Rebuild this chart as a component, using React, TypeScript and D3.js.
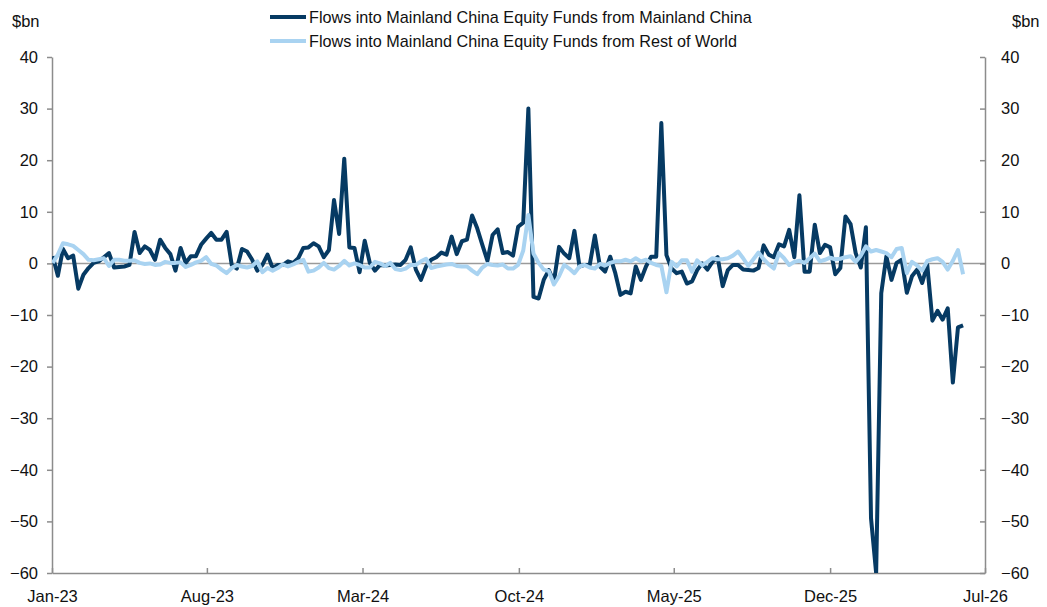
import {useEffect, useRef} from 'react';
import * as d3 from 'd3';

// weekly observations, first week starting 2 Jan 2023
const startDate = new Date(2023, 0, 2);

const mainlandFlows = [
  1.4, -2.4, 2.8, 1.0, 1.5, -4.9, -2.2, -0.9, 0.1, 0.4, 1.2, 2.0, -0.8, -0.7, -0.6, -0.3, 6.1, 2.0, 3.3, 2.6,
  0.7, 4.6, 3.0, 1.8, -1.4, 3.0, 0.1, 1.4, 1.4, 3.6, 4.8, 5.9, 4.6, 4.6, 6.1, -0.3, -1.0, 2.8, 2.3, 0.7,
  -1.4, -0.3, 1.7, -0.9, -0.3, -0.3, 0.4, 0.1, 1.0, 3.0, 3.1, 3.9, 3.3, 1.2, 2.6, 12.3, 5.7, 20.3, 3.1, 3.0,
  -1.7, 4.4, 0.1, -1.4, -0.3, -0.4, -0.3, -0.2, -0.3, 0.7, 3.1, -1.2, -3.2, -0.6, 0.7, 1.2, 2.1, 1.7, 5.2, 1.8,
  4.3, 4.6, 9.3, 6.8, 3.6, 0.5, 5.5, 6.6, 2.0, 2.2, 1.5, 7.1, 7.9, 30.0, -6.5, -6.8, -3.2, -1.3, -3.5, 3.2,
  1.9, 1.0, 6.3, -0.6, -0.3, -0.3, 5.4, -0.6, -1.6, 1.3, -1.9, -6.1, -5.5, -5.8, -0.6, -3.2, -0.6, 1.3, 1.3, 27.2,
  1.6, -1.0, -1.9, -1.6, -3.9, -3.5, -1.3, 0.0, -1.2, 0.3, 1.2, -4.4, -1.3, -0.3, -0.3, -1.2, -1.3, -1.4, -0.9, 3.5,
  1.7, 1.2, 3.7, 3.3, 6.5, 1.2, 13.2, -1.6, -1.6, 7.5, 2.0, 3.6, 3.1, -2.1, -0.9, 9.1, 7.6, 2.0, -0.8, 7.0,
  -49.4, -60.0, -5.8, 1.4, -3.2, 0.1, 0.7, -5.7, -2.5, -1.2, -3.8, -0.3, -11.1, -9.2, -10.9, -8.7, -23.1, -12.4, -12.0,
];

const restOfWorldFlows = [
  0.1, 1.7, 3.9, 3.7, 3.4, 2.6, 1.8, 0.7, 0.6, 0.8, 1.0, -0.5, 0.7, 0.7, 0.5, 0.5, 0.6, 0.1, -0.1, 0.0,
  -0.3, -0.2, 0.3, 0.1, 0.1, 0.2, -0.7, -0.3, 0.2, 0.5, 1.2, -0.1, -0.4, -1.2, -1.9, -0.9, -0.3, -0.6, -0.8, -0.5,
  0.4, -1.7, -0.9, -1.4, -0.9, -0.2, -0.6, -0.2, 0.3, 0.7, -1.6, -1.4, -0.8, 0.1, -0.9, -1.2, -0.5, 0.5, -0.4, 0.0,
  -0.3, -0.8, -0.8, 0.3, 0.0, -0.5, 0.1, -1.1, -1.3, -1.0, -0.3, -0.3, 0.4, 0.9, -0.9, -0.6, -0.4, -0.2, -0.1, -0.5,
  -0.6, -0.6, -1.4, -2.1, -0.8, -0.1, -0.3, -0.4, -0.2, -1.0, -1.0, -0.3, 2.5, 9.4, 1.9, 0.1, -1.2, -1.5, -4.1, -2.5,
  -0.3, -1.0, -1.9, -0.6, -0.3, -0.8, -1.0, -0.1, -0.4, 0.1, 0.4, 0.4, 0.7, 0.4, 1.0, 0.4, 0.7, 0.1, -0.3, -0.5,
  -5.6, 0.3, -0.6, 0.6, 0.6, -1.6, 0.6, -0.4, 0.3, 1.0, 0.8, 0.8, 1.0, 1.5, 2.3, 1.0, -0.5, 0.8, 2.1, 0.8,
  -0.2, -1.0, 2.0, 1.0, -0.3, 0.3, 0.5, 0.1, 1.0, 1.9, 0.4, 0.7, 1.1, 0.8, 0.9, 1.2, 1.4, 0.3, 1.5, 3.3,
  2.3, 2.6, 2.3, 2.0, 1.2, 2.8, 3.0, -1.9, 0.3, -0.4, -1.4, 0.5, 0.8, 1.0, 0.3, -1.2, 0.5, 2.6, -2.1,
];

const seriesNames = [
  'Flows into Mainland China Equity Funds from Mainland China',
  'Flows into Mainland China Equity Funds from Rest of World',
];
const seriesColors = ['#063a63', '#a9d3f1'];

const yTicks = [40, 30, 20, 10, 0, -10, -20, -30, -40, -50, -60];
const xTickDates = [
  new Date(2023, 0, 1),
  new Date(2023, 7, 1),
  new Date(2024, 2, 1),
  new Date(2024, 9, 1),
  new Date(2025, 4, 1),
  new Date(2025, 11, 1),
  new Date(2026, 6, 1),
];

export default function App() {
  const svgRef = useRef<SVGSVGElement>(null);

  useEffect(() => {
    if (!svgRef.current) return;
    const width = 1047;
    const height = 607;
    const margin = {top: 57, right: 62, bottom: 34, left: 52};
    const font = '"Liberation Sans", Arial, sans-serif';

    const svg = d3.select(svgRef.current);
    svg.selectAll('*').remove();
    svg.attr('width', width).attr('height', height).attr('viewBox', [0, 0, width, height]);
    svg.append('rect').attr('width', width).attr('height', height).attr('fill', '#ffffff');

    const dates = mainlandFlows.map((_, i) => d3.timeDay.offset(startDate, 7 * i));

    const x = d3
      .scaleTime()
      .domain([xTickDates[0], xTickDates[xTickDates.length - 1]])
      .range([margin.left, width - margin.right]);
    const y = d3.scaleLinear().domain([-60, 40]).range([height - margin.bottom, margin.top]);

    const axisColor = '#8c8c8c';

    // zero line
    svg
      .append('line')
      .attr('x1', x.range()[0])
      .attr('x2', x.range()[1])
      .attr('y1', y(0))
      .attr('y2', y(0))
      .attr('stroke', '#9a9a9a')
      .attr('stroke-width', 1.5);

    const styleAxis = (g: any) => {
      g.select('.domain').attr('stroke', axisColor).attr('stroke-width', 1.5);
      g.selectAll('.tick line').attr('stroke', axisColor).attr('stroke-width', 1.5);
      g.selectAll('.tick text').attr('fill', '#111').style('font-family', font).style('font-size', '16.5px');
    };

    svg
      .append('g')
      .attr('transform', `translate(${margin.left},0)`)
      .call(d3.axisLeft(y).tickValues(yTicks).tickSize(5).tickSizeOuter(0).tickPadding(9))
      .call(styleAxis);

    svg
      .append('g')
      .attr('transform', `translate(${width - margin.right},0)`)
      .call(d3.axisRight(y).tickValues(yTicks).tickSize(-5).tickSizeOuter(0).tickPadding(16))
      .call(styleAxis);

    svg
      .append('g')
      .attr('transform', `translate(0,${height - margin.bottom})`)
      .call(
        d3
          .axisBottom(x)
          .tickValues(xTickDates)
          .tickFormat(d3.timeFormat('%b-%y') as any)
          .tickSize(-5)
          .tickSizeOuter(0)
          .tickPadding(17),
      )
      .call(styleAxis);

    svg
      .append('defs')
      .append('clipPath')
      .attr('id', 'plot-clip')
      .append('rect')
      .attr('x', margin.left)
      .attr('y', 0)
      .attr('width', width - margin.left - margin.right)
      .attr('height', height - margin.bottom);

    const line = d3
      .line<number>()
      .x((_, i) => x(dates[i]))
      .y((d) => y(d));

    [mainlandFlows, restOfWorldFlows].forEach((series, k) => {
      svg
        .append('path')
        .datum(series)
        .attr('clip-path', 'url(#plot-clip)')
        .attr('fill', 'none')
        .attr('stroke', seriesColors[k])
        .attr('stroke-width', 4)
        .attr('stroke-linejoin', 'round')
        .attr('d', line);
    });

    // unit labels
    svg
      .append('text')
      .attr('x', 12)
      .attr('y', 27)
      .attr('fill', '#111')
      .style('font-family', font)
      .style('font-size', '16.5px')
      .text('$bn');
    svg
      .append('text')
      .attr('x', 1012)
      .attr('y', 27)
      .attr('fill', '#111')
      .style('font-family', font)
      .style('font-size', '16.5px')
      .text('$bn');

    // legend
    const legend = svg.append('g');
    seriesNames.forEach((name, k) => {
      const ly = 17 + k * 24;
      legend
        .append('line')
        .attr('x1', 270)
        .attr('x2', 306)
        .attr('y1', ly)
        .attr('y2', ly)
        .attr('stroke', seriesColors[k])
        .attr('stroke-width', 4);
      legend
        .append('text')
        .attr('x', 309)
        .attr('y', ly)
        .attr('dy', '0.35em')
        .attr('fill', '#111')
        .style('font-family', font)
        .style('font-size', '16.2px')
        .text(name);
    });
  }, []);

  return (
    <div style={{position: 'absolute', left: 0, top: 0}}>
      <svg ref={svgRef} style={{display: 'block'}} />
    </div>
  );
}
